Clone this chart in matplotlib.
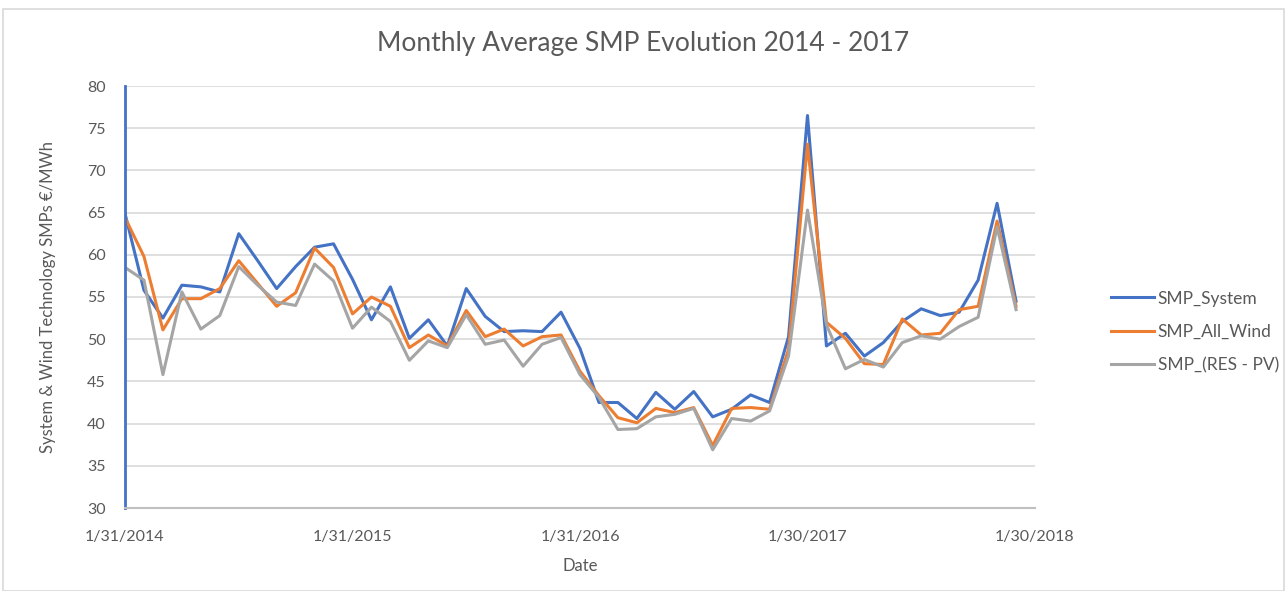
import numpy as np
import matplotlib.pyplot as plt
from matplotlib.patches import Rectangle

# monthly averages Jan 2014 - Dec 2017 (EUR/MWh)
smp_system = [64.9, 55.8, 52.5, 56.4, 56.2, 55.6, 62.5, 59.3, 56.0, 58.6,
              60.9, 61.3, 57.1, 52.3, 56.2, 50.1, 52.3, 49.2, 56.0, 52.7,
              50.9, 51.0, 50.9, 53.2, 48.9, 42.5, 42.5, 40.6, 43.7, 41.7,
              43.8, 40.8, 41.7, 43.4, 42.5, 50.3, 76.5, 49.2, 50.7, 48.0,
              49.6, 52.1, 53.6, 52.8, 53.2, 57.0, 66.1, 54.5]
smp_all_wind = [64.4, 59.8, 51.1, 54.8, 54.8, 56.0, 59.3, 56.6, 53.9, 55.5,
                60.8, 58.5, 53.0, 55.0, 53.9, 49.0, 50.5, 49.2, 53.4, 50.3,
                51.2, 49.2, 50.3, 50.5, 46.2, 43.3, 40.7, 40.1, 41.8, 41.3,
                41.9, 37.4, 41.8, 41.9, 41.7, 48.8, 73.1, 52.0, 50.1, 47.1,
                47.0, 52.4, 50.5, 50.7, 53.5, 53.9, 64.0, 53.9]
smp_res_pv = [58.5, 57.0, 45.8, 55.6, 51.2, 52.8, 58.6, 56.4, 54.4, 54.0,
              58.9, 56.9, 51.3, 53.8, 52.1, 47.5, 49.8, 49.0, 52.9, 49.4,
              49.9, 46.8, 49.4, 50.2, 45.8, 43.1, 39.3, 39.4, 40.8, 41.1,
              41.8, 36.9, 40.6, 40.3, 41.5, 48.0, 65.3, 51.7, 46.5, 47.6,
              46.7, 49.6, 50.4, 50.0, 51.5, 52.6, 63.3, 53.5]
tick_pos = [0, 12, 24, 36, 48]
tick_labels = ["1/31/2014", "1/31/2015", "1/31/2016", "1/30/2017", "1/30/2018"]

plt.rcParams['font.family'] = ['Lato', 'DejaVu Sans']
txt = '#595959'

fig = plt.figure(figsize=(12.87, 5.91), dpi=100)
ax = fig.add_axes([125/1287, 1-508/591, 910/1287, 422/591])

x = np.arange(len(smp_system))
ax.plot(x, smp_system, color='#4472C4', lw=2.2, label='SMP_System')
ax.plot(x, smp_all_wind, color='#ED7D31', lw=2.2, label='SMP_All_Wind')
ax.plot(x, smp_res_pv, color='#A5A5A5', lw=2.2, label='SMP_(RES - PV)')

ax.set_xlim(0, 48)
ax.set_ylim(30, 80)
ax.set_yticks(range(30, 81, 5))
ax.set_xticks(tick_pos)
ax.set_xticklabels(tick_labels)
ax.grid(axis='y', color='#d9d9d9', lw=1.2)
ax.set_axisbelow(True)
ax.tick_params(length=0, labelsize=11.5, colors=txt)
ax.tick_params(axis='x', pad=16)
ax.tick_params(axis='y', pad=14)
for s in ['top', 'right']:
    ax.spines[s].set_visible(False)
ax.spines['bottom'].set_color('#bfbfbf')
ax.spines['bottom'].set_linewidth(1.5)
ax.spines['left'].set_color('#4472C4')
ax.spines['left'].set_linewidth(2)

ax.set_xlabel('Date', fontsize=12, color=txt, labelpad=10)
ax.set_ylabel('System & Wind Technology SMPs €/MWh', fontsize=12, color=txt, labelpad=22)
fig.suptitle('Monthly Average SMP Evolution 2014 - 2017', fontsize=19, color=txt, y=0.948)

fig.legend(loc='center left', bbox_to_anchor=(1095/1287, 1-332/591), frameon=False,
           fontsize=12.5, handlelength=2.5, labelspacing=1.0, handletextpad=0.2,
           labelcolor=txt)

fig.patches.append(Rectangle((3/1287, 0), 1-6/1287, 1-9/591, transform=fig.transFigure,
                             fill=False, edgecolor='#d9d9d9', lw=1.2))

fig.savefig('out.png', dpi=100)
